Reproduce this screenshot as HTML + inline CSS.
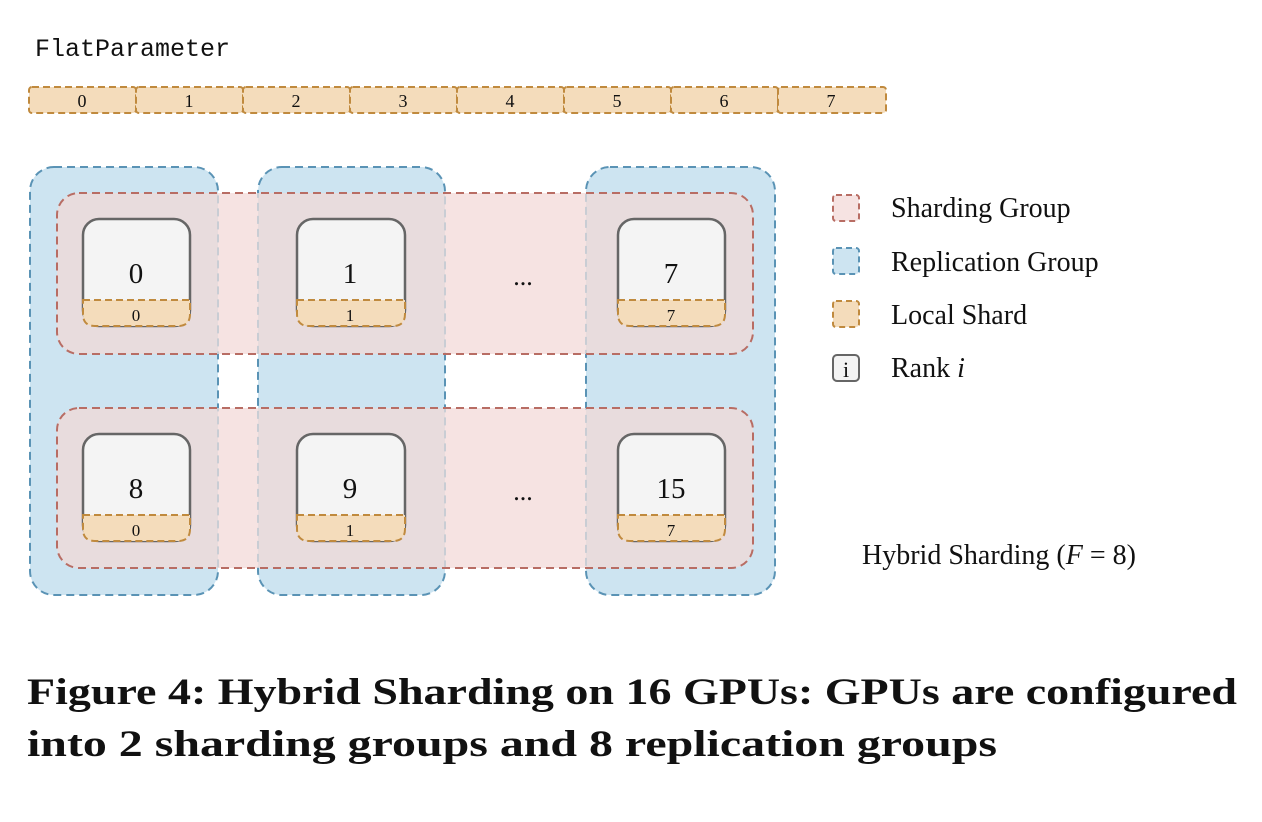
<!DOCTYPE html>
<html><head><meta charset="utf-8"><style>
html,body{margin:0;padding:0;background:#fff;}
svg{display:block;}
text{font-family:"Liberation Serif",serif;fill:#111;}
</style></head><body>
<svg width="1262" height="822" viewBox="0 0 1262 822" xmlns="http://www.w3.org/2000/svg">
<defs>
<clipPath id="blue">
<rect x="30" y="167" width="188" height="428" rx="24"/>
<rect x="258" y="167" width="187" height="428" rx="24"/>
<rect x="586" y="167" width="189" height="428" rx="24"/>
</clipPath>
<clipPath id="pink">
<rect x="57" y="193" width="696" height="161" rx="22"/>
<rect x="57" y="408" width="696" height="160" rx="22"/>
</clipPath>
</defs>
<text x="35" y="56" style="font-family:'Liberation Mono',monospace;font-size:25px" fill="#222">FlatParameter</text>
<g stroke="#c08a3e" stroke-width="2" stroke-dasharray="7,4" fill="#f4dcbb">
<rect x="29" y="87" width="107" height="26" rx="3"/>
<rect x="136" y="87" width="107" height="26" rx="3"/>
<rect x="243" y="87" width="107" height="26" rx="3"/>
<rect x="350" y="87" width="107" height="26" rx="3"/>
<rect x="457" y="87" width="107" height="26" rx="3"/>
<rect x="564" y="87" width="107" height="26" rx="3"/>
<rect x="671" y="87" width="107" height="26" rx="3"/>
<rect x="778" y="87" width="108" height="26" rx="3"/>
</g>
<g font-size="18" text-anchor="middle">
<text x="82" y="107">0</text><text x="189" y="107">1</text><text x="296" y="107">2</text><text x="403" y="107">3</text>
<text x="510" y="107">4</text><text x="617" y="107">5</text><text x="724" y="107">6</text><text x="831" y="107">7</text>
</g>
<!-- blue -->
<g fill="#cde4f1" stroke="#5a93b5" stroke-width="2" stroke-dasharray="8,5">
<rect x="30" y="167" width="188" height="428" rx="24"/>
<rect x="258" y="167" width="187" height="428" rx="24"/>
<rect x="586" y="167" width="189" height="428" rx="24"/>
</g>
<!-- pink -->
<g fill="#f6e3e2">
<rect x="57" y="193" width="696" height="161" rx="22"/>
<rect x="57" y="408" width="696" height="160" rx="22"/>
</g>
<g clip-path="url(#blue)" fill="#e8dcdd">
<rect x="57" y="193" width="696" height="161" rx="22"/>
<rect x="57" y="408" width="696" height="160" rx="22"/>
</g>
<g clip-path="url(#pink)" fill="none" stroke="#c9cdd4" stroke-width="2" stroke-dasharray="8,5">
<rect x="30" y="167" width="188" height="428" rx="24"/>
<rect x="258" y="167" width="187" height="428" rx="24"/>
<rect x="586" y="167" width="189" height="428" rx="24"/>
</g>
<g fill="none" stroke="#b86d64" stroke-width="2" stroke-dasharray="8,5">
<rect x="57" y="193" width="696" height="161" rx="22"/>
<rect x="57" y="408" width="696" height="160" rx="22"/>
</g>
<!-- GPUs -->
<g id="gpus">
<g fill="#f4f4f4" stroke="#666" stroke-width="2.5">
<rect x="83" y="219" width="107" height="107" rx="16"/>
<rect x="297" y="219" width="108" height="107" rx="16"/>
<rect x="618" y="219" width="107" height="107" rx="16"/>
<rect x="83" y="434" width="107" height="107" rx="16"/>
<rect x="297" y="434" width="108" height="107" rx="16"/>
<rect x="618" y="434" width="107" height="107" rx="16"/>
</g>
<g fill="#f4dcbb" stroke="#c08a3e" stroke-width="2" stroke-dasharray="7,4">
<path d="M83 300 H190 V314 Q190 326 178 326 H95 Q83 326 83 314 Z"/>
<path d="M297 300 H405 V314 Q405 326 393 326 H309 Q297 326 297 314 Z"/>
<path d="M618 300 H725 V314 Q725 326 713 326 H630 Q618 326 618 314 Z"/>
<path d="M83 515 H190 V529 Q190 541 178 541 H95 Q83 541 83 529 Z"/>
<path d="M297 515 H405 V529 Q405 541 393 541 H309 Q297 541 297 529 Z"/>
<path d="M618 515 H725 V529 Q725 541 713 541 H630 Q618 541 618 529 Z"/>
</g>
<g font-size="29" text-anchor="middle" fill="#222">
<text x="136" y="283">0</text><text x="350" y="283">1</text><text x="671" y="283">7</text>
<text x="136" y="498">8</text><text x="350" y="498">9</text><text x="671" y="498">15</text>
</g>
<g font-size="17" text-anchor="middle">
<text x="136" y="321">0</text><text x="350" y="321">1</text><text x="671" y="321">7</text>
<text x="136" y="536">0</text><text x="350" y="536">1</text><text x="671" y="536">7</text>
</g>
<g font-size="26" text-anchor="middle"><text x="523" y="285">...</text><text x="523" y="500">...</text></g>
</g>
<!-- legend -->
<rect x="833" y="195" width="26" height="26" rx="3" fill="#f6e3e2" stroke="#b86d64" stroke-width="2" stroke-dasharray="6,4"/>
<rect x="833" y="248" width="26" height="26" rx="3" fill="#cde4f1" stroke="#5a93b5" stroke-width="2" stroke-dasharray="6,4"/>
<rect x="833" y="301" width="26" height="26" rx="3" fill="#f4dcbb" stroke="#c08a3e" stroke-width="2" stroke-dasharray="6,4"/>
<rect x="833" y="355" width="26" height="26" rx="4" fill="#f4f4f4" stroke="#666" stroke-width="2"/>
<text x="846" y="377" font-size="22" text-anchor="middle">i</text>
<g font-size="28">
<text x="891" y="217">Sharding Group</text>
<text x="891" y="271">Replication Group</text>
<text x="891" y="324">Local Shard</text>
<text x="891" y="377">Rank <tspan font-style="italic">i</tspan></text>
<text x="862" y="564">Hybrid Sharding (<tspan font-style="italic">F</tspan> = 8)</text>
</g>
<g font-size="37" font-weight="bold">
<text x="27" y="704" textLength="1210" lengthAdjust="spacingAndGlyphs">Figure 4: Hybrid Sharding on 16 GPUs: GPUs are configured</text>
<text x="27" y="756" textLength="970" lengthAdjust="spacingAndGlyphs">into 2 sharding groups and 8 replication groups</text>
</g>
</svg>
</body></html>
